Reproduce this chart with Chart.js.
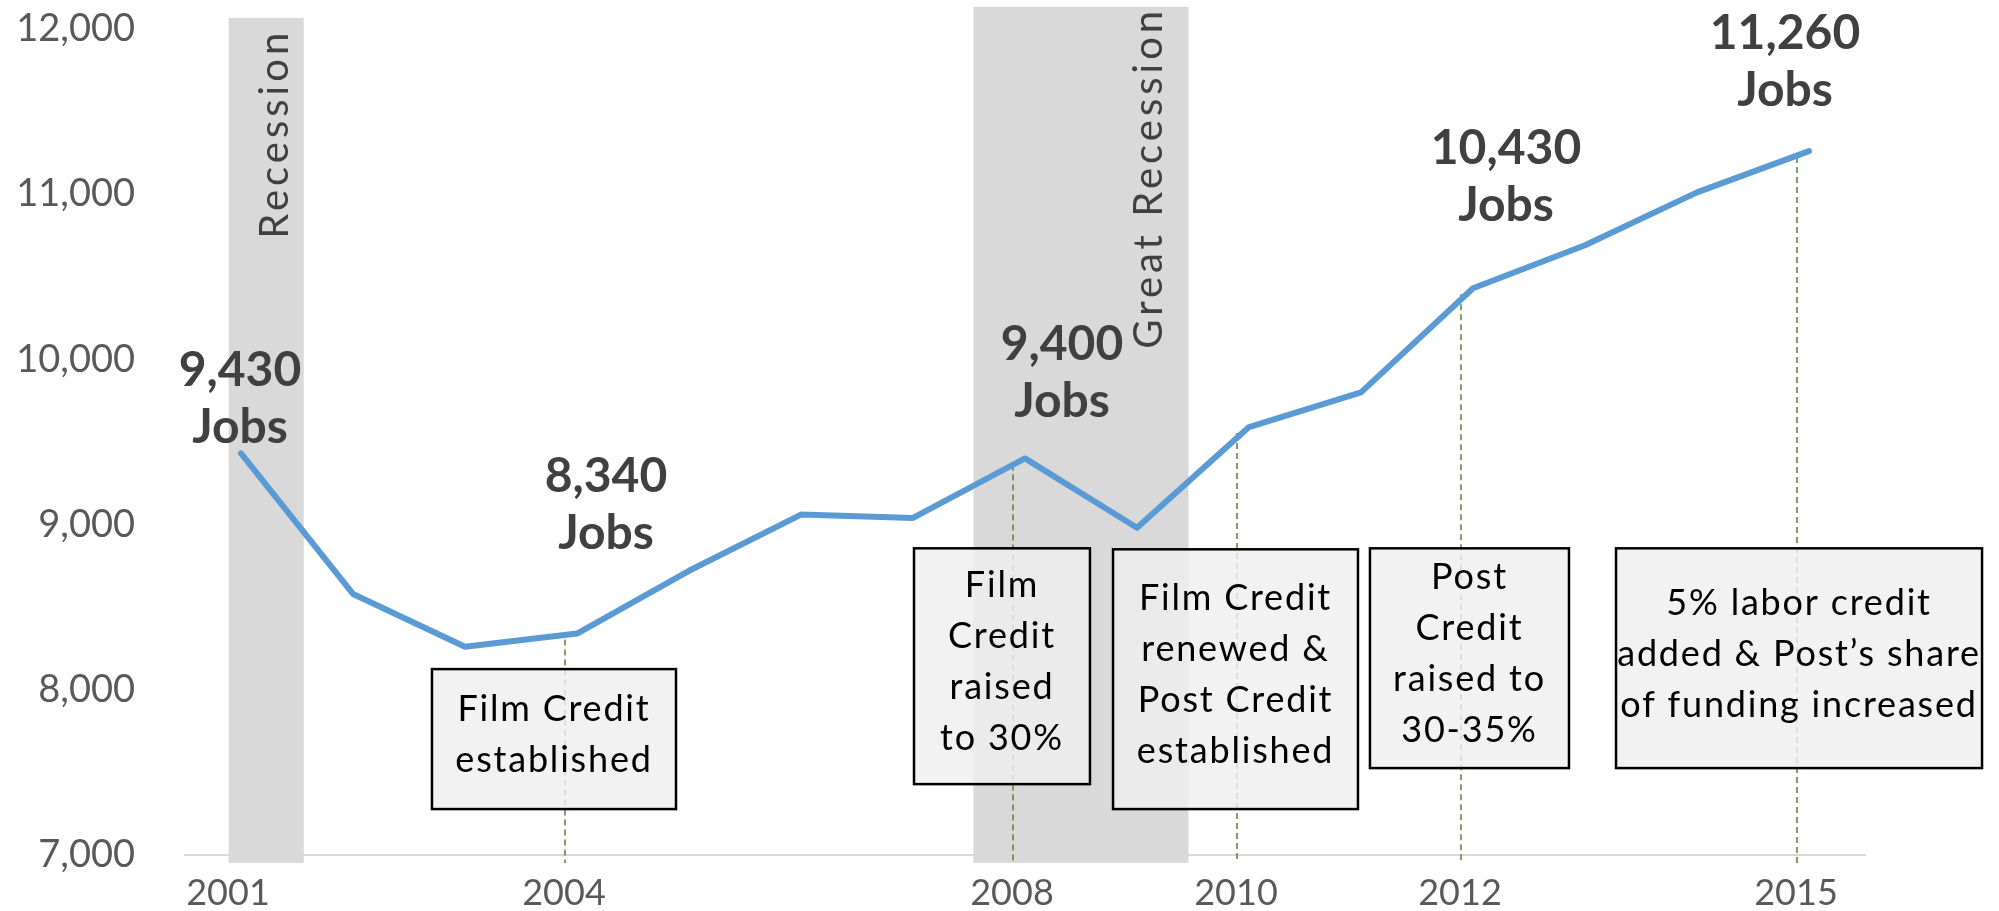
<!DOCTYPE html>
<html>
<head>
<meta charset="utf-8">
<script src="https://cdn.jsdelivr.net/npm/chart.js@4.4.1/dist/chart.umd.min.js"></script>
<style>
  html, body { margin: 0; padding: 0; background: #fff; }
  canvas { display: block; }
</style>
</head>
<body>
<canvas id="myChart" width="1999" height="911"></canvas>
<script>
// data
const years = ['2001', '2002', '2003', '2004', '2005', '2006', '2007', '2008',
               '2009', '2010', '2011', '2012', '2013', '2014', '2015'];
const jobs = [9430, 8580, 8260, 8340, 8720, 9060, 9040, 9400,
              8980, 9590, 9800, 10430, 10690, 11010, 11260];
const shownYears = ['2001', '2004', '2008', '2010', '2012', '2015'];
const yTicks = [7000, 8000, 9000, 10000, 11000, 12000];
const calloutYears = ['2001', '2004', '2008', '2012', '2015'];
const markerYears = ['2004', '2008', '2010', '2012', '2015'];
const recessionNames = ['Recession', 'Great Recession'];
const recessionSpans = [[-0.11, 0.56], [6.54, 8.46]];   // fractional category index
const noteTexts = [
    ['Film Credit', 'established'],
    ['Film', 'Credit', 'raised', 'to 30%'],
    ['Film Credit', 'renewed &', 'Post Credit', 'established'],
    ['Post', 'Credit', 'raised to', '30-35%'],
    ['5% labor credit', 'added & Post\u2019s share', 'of funding increased']
];

// layout of the annotations (scale units: x = category index, y = jobs)
const bandLayout = [
    { top: 12066, bottom: 6952, textX: 0.30, textTop: 12000 },
    { top: 12133, bottom: 6952, textX: 8.11, textTop: 12133 }
];
const noteLayout = [
    { x0: 1.705, x1: 3.884, top: 8125, bottom: 7278 },
    { x0: 6.009, x1: 7.580, top: 8856, bottom: 7429 },
    { x0: 7.786, x1: 9.973, top: 8850, bottom: 7278 },
    { x0: 10.08, x1: 11.857, top: 8856, bottom: 7526 },
    { x0: 12.277, x1: 15.545, top: 8856, bottom: 7526 }
];
const calloutOffsets = [[-1, -83], [29, -157], [37, -114], [33, -140], [-24, -118]];

const FONT = 'Lato, "Open Sans", sans-serif';

const annotations = {
    id: 'annotations',
    beforeDatasetsDraw(chart) {
        const ctx = chart.ctx;
        const x = chart.scales.x;
        const y = chart.scales.y;
        ctx.save();
        // recession bands
        recessionSpans.forEach((span, i) => {
            const b = bandLayout[i];
            const left = x.getPixelForValue(span[0]);
            const right = x.getPixelForValue(span[1]);
            const top = y.getPixelForValue(b.top);
            const bottom = y.getPixelForValue(b.bottom);
            ctx.fillStyle = '#d9d9d9';
            ctx.fillRect(left, top, right - left, bottom - top);

            ctx.save();
            ctx.translate(x.getPixelForValue(b.textX), y.getPixelForValue(b.textTop));
            ctx.rotate(-Math.PI / 2);
            ctx.font = '40px ' + FONT;
            ctx.letterSpacing = '4px';
            ctx.fillStyle = '#404040';
            ctx.textAlign = 'right';
            ctx.textBaseline = 'middle';
            ctx.fillText(recessionNames[i], 0, 0);
            ctx.restore();
        });

        // dashed drop lines
        ctx.strokeStyle = '#548235';
        ctx.lineWidth = 1.5;
        ctx.setLineDash([6, 4]);
        markerYears.forEach(yr => {
            const i = years.indexOf(yr);
            const px = x.getPixelForValue(i) - 12;
            const top = y.getPixelForValue(jobs[i]) + 6;
            const bottom = y.getPixelForValue(6952);
            ctx.beginPath();
            ctx.moveTo(px, top);
            ctx.lineTo(px, bottom);
            ctx.stroke();
        });
        ctx.restore();
    },
    afterDatasetsDraw(chart) {
        const ctx = chart.ctx;
        const x = chart.scales.x;
        const y = chart.scales.y;
        ctx.save();
        // note boxes
        noteTexts.forEach((lines, i) => {
            const n = noteLayout[i];
            const left = x.getPixelForValue(n.x0);
            const right = x.getPixelForValue(n.x1);
            const top = y.getPixelForValue(n.top);
            const bottom = y.getPixelForValue(n.bottom);
            ctx.fillStyle = 'rgba(239,239,239,0.82)';
            ctx.fillRect(left, top, right - left, bottom - top);
            ctx.strokeStyle = '#000';
            ctx.lineWidth = 2.5;
            ctx.strokeRect(left, top, right - left, bottom - top);

            ctx.save();
            ctx.font = '36px ' + FONT;
            ctx.letterSpacing = '1.8px';
            ctx.fillStyle = '#000';
            ctx.textAlign = 'center';
            ctx.textBaseline = 'middle';
            const lh = 51;
            const cx = (left + right) / 2;
            const cy = (top + bottom) / 2 - (lines.length - 1) * lh / 2 - 4;
            lines.forEach((t, k) => ctx.fillText(t, cx, cy + k * lh));
            ctx.restore();
        });

        // value callouts
        ctx.font = 'bold 48px ' + FONT;
        ctx.fillStyle = '#404040';
        ctx.textAlign = 'center';
        ctx.textBaseline = 'middle';
        calloutYears.forEach((yr, k) => {
            const i = years.indexOf(yr);
            const px = x.getPixelForValue(i) + calloutOffsets[k][0];
            const py = y.getPixelForValue(jobs[i]) + calloutOffsets[k][1];
            ctx.fillText(jobs[i].toLocaleString('en-US'), px, py);
            ctx.fillText('Jobs', px, py + 57);
        });
        ctx.restore();
    }
};

new Chart(document.getElementById('myChart'), {
    type: 'line',
    data: {
        labels: years,
        datasets: [{
            label: 'Jobs',
            data: jobs,
            borderColor: '#5b9bd5',
            borderWidth: 6,
            borderCapStyle: 'round',
            borderJoinStyle: 'round',
            pointRadius: 0,
            tension: 0,
            fill: false,
            clip: false
        }]
    },
    options: {
        responsive: false,
        animation: false,
        layout: { padding: { top: 28, right: 134, bottom: 0, left: 0 } },
        plugins: {
            legend: { display: false },
            tooltip: { enabled: false }
        },
        scales: {
            x: {
                type: 'category',
                offset: true,
                grid: { display: false, drawTicks: false },
                border: { display: true, color: '#d9d9d9', width: 2 },
                ticks: {
                    autoSkip: false,
                    maxRotation: 0,
                    padding: 17,
                    labelOffset: -13,
                    color: '#595959',
                    font: { family: FONT, size: 36 },
                    callback: function (value) {
                        const lab = this.getLabelForValue(value);
                        return shownYears.includes(lab) ? lab : '';
                    }
                },
                afterFit: scale => { scale.height = 56; }
            },
            y: {
                min: yTicks[0],
                max: yTicks[yTicks.length - 1],
                grid: { display: false, drawTicks: true, tickLength: 44 },
                border: { display: false },
                afterBuildTicks: scale => { scale.ticks = yTicks.map(v => ({ value: v })); },
                ticks: {
                    padding: 6,
                    color: '#595959',
                    font: { family: FONT, size: 38 },
                    callback: v => v.toLocaleString('en-US')
                },
                afterFit: scale => { scale.width = 185; }
            }
        }
    },
    plugins: [annotations]
});
</script>
</body>
</html>
